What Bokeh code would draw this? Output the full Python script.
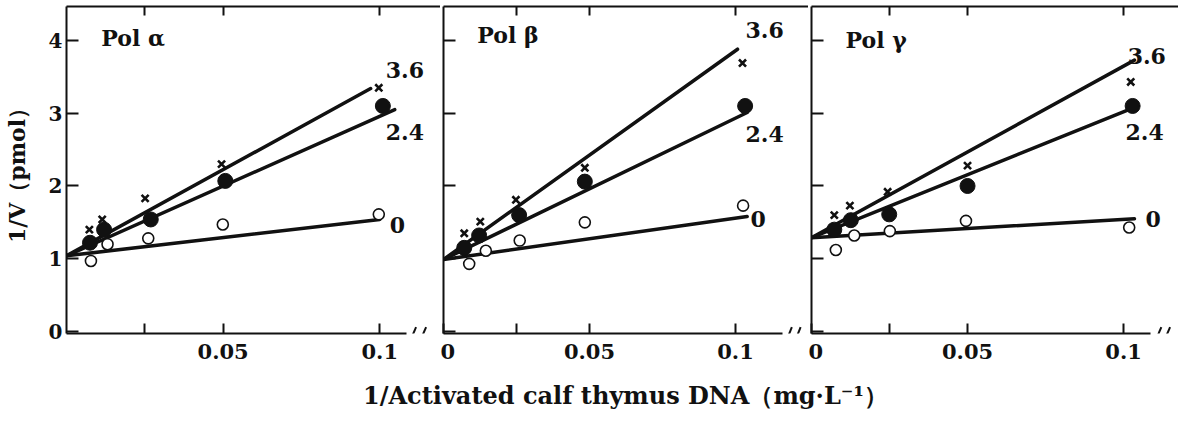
from bokeh.plotting import figure
from bokeh.layouts import row, column
from bokeh.models import FixedTicker, LinearAxis, Range1d, Arrow, Label
from bokeh.core.properties import value
from bokeh.embed import file_html
from bokeh.resources import INLINE

# ---------------- data ----------------
panel_titles = ["Pol α", "Pol β", "Pol γ"]
conc_labels = ["0", "2.4", "3.6"]
x_major_ticks = [0.05, 0.1]
x_minor_ticks = [0.025]
y_ticks = [0, 1, 2, 3, 4]
x_tick_labels = {0.05: "0.05", 0.1: "0.1", 0.0: "0"}
x_label = "1/Activated calf thymus DNA（mg·L⁻¹）"
y_label = "1/V（pmol）"

# Pol alpha
a_x_0 = [0.0078, 0.0131, 0.0261, 0.0499, 0.0997]
a_y_0 = [0.97, 1.20, 1.28, 1.47, 1.61]
a_x_24 = [0.0075, 0.0120, 0.0269, 0.0507, 0.1010]
a_y_24 = [1.22, 1.40, 1.54, 2.07, 3.10]
a_x_36 = [0.0073, 0.0114, 0.0251, 0.0495, 0.0997]
a_y_36 = [1.40, 1.54, 1.83, 2.30, 3.35]
a_line_x0 = [0.0, 0.0, 0.0]
a_line_y0 = [1.04, 1.04, 1.04]
a_line_x1 = [0.1000, 0.1048, 0.0971]
a_line_y1 = [1.54, 3.05, 3.34]

# Pol beta
b_x_0 = [0.0088, 0.0145, 0.0261, 0.0484, 0.1026]
b_y_0 = [0.93, 1.11, 1.25, 1.50, 1.73]
b_x_24 = [0.0071, 0.0122, 0.0259, 0.0484, 0.1033]
b_y_24 = [1.15, 1.32, 1.60, 2.06, 3.10]
b_x_36 = [0.0071, 0.0126, 0.0248, 0.0484, 0.1024]
b_y_36 = [1.35, 1.51, 1.81, 2.25, 3.69]
b_line_x0 = [0.0, 0.0, 0.0]
b_line_y0 = [0.99, 0.99, 0.99]
b_line_x1 = [0.1040, 0.1040, 0.1007]
b_line_y1 = [1.58, 3.01, 3.88]

# Pol gamma
g_x_0 = [0.0078, 0.0137, 0.0251, 0.0495, 0.1018]
g_y_0 = [1.12, 1.32, 1.38, 1.52, 1.43]
g_x_24 = [0.0073, 0.0126, 0.0249, 0.0500, 0.1029]
g_y_24 = [1.40, 1.53, 1.61, 2.00, 3.10]
g_x_36 = [0.0073, 0.0123, 0.0244, 0.0500, 0.1023]
g_y_36 = [1.60, 1.73, 1.92, 2.28, 3.43]
g_line_x0 = [0.0, 0.0, 0.0]
g_line_y0 = [1.29, 1.29, 1.29]
g_line_x1 = [0.1035, 0.1035, 0.1035]
g_line_y1 = [1.55, 3.08, 3.73]

# ---------------- styling / layout ----------------
FONT = "DejaVu Serif"
INK = "#111111"
Y_RANGE = (-0.0275, 4.467)
PANEL_H = 378
LABEL_H = 33

panels = [
    dict(title=panel_titles[0], title_xy=(0.0111, 4.04),
         xs=[a_x_0, a_x_24, a_x_36], ys=[a_y_0, a_y_24, a_y_36],
         lx0=a_line_x0, ly0=a_line_y0, lx1=a_line_x1, ly1=a_line_y1,
         lab_xy=[(0.1032, 1.46), (0.1019, 2.74), (0.1019, 3.59)],
         width=440, left=64, xmax=0.1194, bound=0.1085, breaks=[0.1098, 0.1130],
         zero=False),
    dict(title=panel_titles[1], title_xy=(0.0116, 4.08),
         xs=[b_x_0, b_x_24, b_x_36], ys=[b_y_0, b_y_24, b_y_36],
         lx0=b_line_x0, ly0=b_line_y0, lx1=b_line_x1, ly1=b_line_y1,
         lab_xy=[(0.1051, 1.55), (0.1034, 2.72), (0.1034, 4.14)],
         width=368, left=3, xmax=0.1250, bound=0.1160, breaks=[0.1175, 0.1205],
         zero=True),
    dict(title=panel_titles[2], title_xy=(0.0109, 4.00),
         xs=[g_x_0, g_x_24, g_x_36], ys=[g_y_0, g_y_24, g_y_36],
         lx0=g_line_x0, ly0=g_line_y0, lx1=g_line_x1, ly1=g_line_y1,
         lab_xy=[(0.1070, 1.54), (0.1006, 2.74), (0.1013, 3.79)],
         width=370, left=3, xmax=0.1176, bound=0.1087, breaks=[0.1103, 0.1131],
         zero=True),
]


def style_ticks(ax, tick_in):
    ax.major_tick_in = tick_in
    ax.major_tick_out = 0
    ax.minor_tick_in = tick_in
    ax.minor_tick_out = 0
    ax.axis_line_width = 2
    ax.axis_line_color = INK
    ax.major_tick_line_width = 2
    ax.major_tick_line_color = INK
    ax.minor_tick_line_width = 2
    ax.minor_tick_line_color = INK


figs = []
for i, pd_ in enumerate(panels):
    p = figure(width=pd_["width"], height=PANEL_H,
               x_range=Range1d(0, pd_["xmax"]), y_range=Range1d(*Y_RANGE),
               output_backend="svg", toolbar_location=None,
               min_border_left=pd_["left"], min_border_right=0,
               min_border_top=6, min_border_bottom=PANEL_H - 333)
    p.outline_line_color = None
    p.grid.grid_line_color = None
    p.background_fill_color = "white"
    p.border_fill_color = "white"

    # bottom axis
    xa = p.xaxis[0]
    majors = ([0.0] if pd_["zero"] else []) + x_major_ticks
    xa.ticker = FixedTicker(ticks=majors, minor_ticks=x_minor_ticks)
    xa.major_label_overrides = {t: x_tick_labels[t] for t in majors}
    xa.bounds = (0, pd_["bound"])
    style_ticks(xa, 10)
    xa.major_label_standoff = 10
    xa.major_label_text_font = FONT
    xa.major_label_text_font_style = "bold"
    xa.major_label_text_font_size = "21px"
    xa.major_label_text_color = INK

    # left axis
    ya = p.yaxis[0]
    style_ticks(ya, 12)
    if i == 0:
        ya.ticker = FixedTicker(ticks=y_ticks, minor_ticks=[])
        ya.major_label_standoff = 4
        ya.major_label_text_font = FONT
        ya.major_label_text_font_style = "bold"
        ya.major_label_text_font_size = "20px"
        ya.major_label_text_color = INK
        ya.axis_label = y_label
        ya.axis_label_standoff = 16
        ya.axis_label_text_font = FONT
        ya.axis_label_text_font_style = "bold"
        ya.axis_label_text_font_size = "22px"
        ya.axis_label_text_color = INK
    else:
        ya.ticker = FixedTicker(ticks=[], minor_ticks=y_ticks)
        ya.major_label_standoff = 0

    # top spine with inward ticks (unlabelled)
    top = LinearAxis(ticker=FixedTicker(ticks=[], minor_ticks=x_minor_ticks + x_major_ticks),
                     major_label_standoff=0)
    style_ticks(top, 9)
    p.add_layout(top, "above")

    # fitted lines
    p.segment(x0=pd_["lx0"], y0=pd_["ly0"], x1=pd_["lx1"], y1=pd_["ly1"],
              line_color=INK, line_width=3.5, line_cap="round")

    # markers
    xs, ys = pd_["xs"], pd_["ys"]
    p.scatter(xs[0], ys[0], marker="circle", size=11, fill_color="white",
              line_color=INK, line_width=1.6)
    p.scatter(xs[1], ys[1], marker="circle", size=15, fill_color=INK,
              line_color=INK)
    p.scatter(xs[2], ys[2], marker="x", size=10, line_color=INK, line_width=2.6)

    # concentration labels at line ends
    lx = [xy[0] for xy in pd_["lab_xy"]]
    ly = [xy[1] for xy in pd_["lab_xy"]]
    p.text(x=lx, y=ly, text=conc_labels, text_font=value(FONT),
           text_font_style="bold", text_font_size="22px", text_color=INK,
           text_align="left", text_baseline="middle")

    # panel title
    p.add_layout(Label(x=pd_["title_xy"][0], y=pd_["title_xy"][1],
                       text=pd_["title"], text_font=FONT,
                       text_font_style="bold", text_font_size="22px",
                       text_color=INK, text_baseline="middle"))

    # axis break marks
    for bx in pd_["breaks"]:
        p.add_layout(Arrow(end=None, x_start=bx, y_start=-0.12,
                           x_end=bx + 0.0018, y_end=0.06,
                           line_color=INK, line_width=2))
    figs.append(p)

# shared x-axis title strip
total_w = sum(pd_["width"] for pd_ in panels)
lab = figure(width=total_w, height=LABEL_H, x_range=Range1d(0, total_w),
             y_range=Range1d(0, LABEL_H), output_backend="svg",
             toolbar_location=None, x_axis_location=None, y_axis_location=None,
             min_border_left=0, min_border_right=0, min_border_top=0,
             min_border_bottom=0)
lab.outline_line_color = None
lab.grid.visible = False
lab.add_layout(Label(x=625, y=LABEL_H - 17, text=x_label, text_font=FONT,
                     text_font_style="bold", text_font_size="24px",
                     text_color=INK, text_align="center",
                     text_baseline="middle"))

layout = column(row(*figs, spacing=0), lab, spacing=0)
open("out.html", "w").write(file_html(layout, INLINE))
